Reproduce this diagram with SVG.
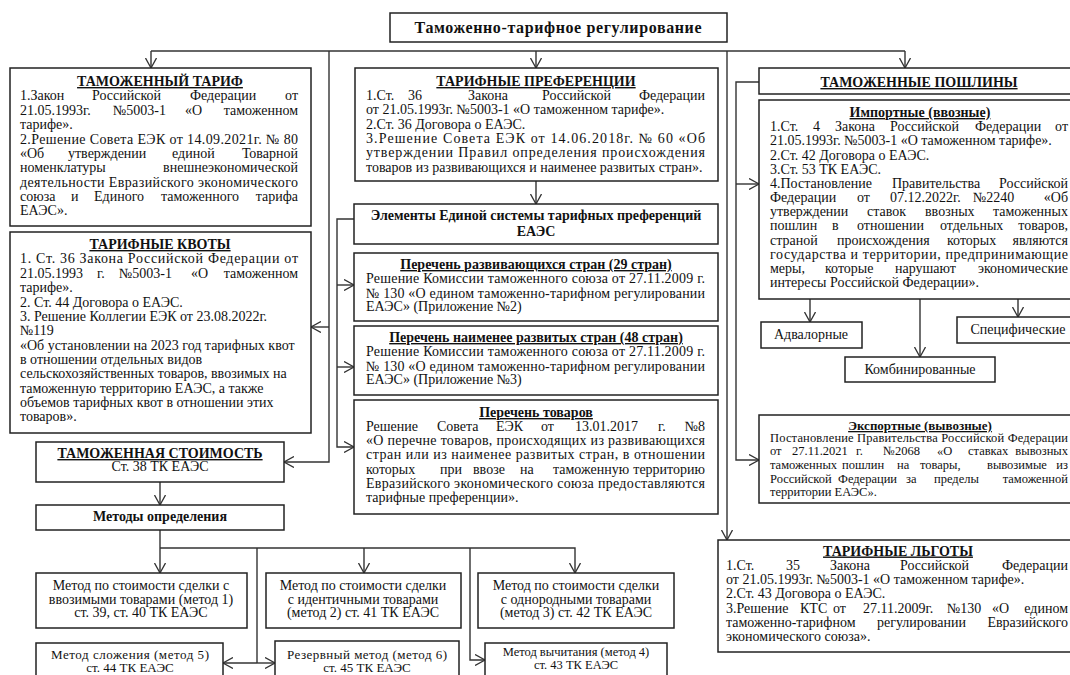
<svg xmlns="http://www.w3.org/2000/svg" width="1070" height="675" viewBox="0 0 1070 675">
<style>
.b{fill:#fff;stroke:#222;stroke-width:1.5}
.t{font-family:"Liberation Serif","Times New Roman",serif;font-size:14px;fill:#111}
.s{font-size:13px}
.xs{font-size:12.5px}
.h{font-weight:bold;text-decoration:underline;text-anchor:middle}
.bo{font-weight:bold;text-anchor:middle}
.c{text-anchor:middle}
.e{text-anchor:end}
.l{fill:none;stroke:#333;stroke-width:1.4}
.a{marker-end:url(#arr)}
</style>
<defs>
<marker id="arr" viewBox="0 0 10 12" refX="10" refY="6" markerWidth="10" markerHeight="12" markerUnits="userSpaceOnUse" orient="auto">
<path d="M0,0.5 L10,6 L0,11.5" fill="none" stroke="#333" stroke-width="1.3"/>
</marker>
</defs>
<rect width="1070" height="675" fill="#fff"/>

<g id="connectors">
<path class="l" d="M151,51 H905"/>
<path class="l a" d="M151,51 V68"/>
<path class="l a" d="M536,51 V68"/>
<path class="l a" d="M905,51 V68"/>
<path class="l a" d="M727,51 V540"/>
<path class="l a" d="M329,51 V462 H284"/>
<path class="l a" d="M329,327 H311"/>
<path class="l a" d="M536,181 V204"/>
<path class="l a" d="M354,219 H337 V447 H354"/>
<path class="l a" d="M337,285 H354"/>
<path class="l a" d="M337,367 H354"/>
<path class="l a" d="M759,82 H736 V460 H759"/>
<path class="l a" d="M736,184 H759"/>
<path class="l a" d="M810,299 V322"/>
<path class="l a" d="M920,299 V357"/>
<path class="l a" d="M1018,299 V317"/>
<path class="l a" d="M160,482 V505"/>
<path class="l a" d="M160,530 V573"/>
<path class="l a" d="M160,548 H575 V573"/>
<path class="l a" d="M364,548 V573"/>
<path class="l" d="M257,548 V663"/>
<path class="l a" d="M257,663 H223"/>
<path class="l a" d="M257,663 H275"/>
<path class="l a" d="M470,548 V660 H485"/>
</g>

<g id="title">
<rect class="b" x="390" y="13" width="337" height="29"/>
<text class="t bo" x="558" y="33" style="font-size:16px" textLength="287" lengthAdjust="spacing">Таможенно-тарифное регулирование</text>
</g>

<g id="tamozh-tarif">
<rect class="b" x="10" y="68" width="301" height="158"/>
<text class="t h" x="160" y="86">ТАМОЖЕННЫЙ ТАРИФ</text>
<text class="t" y="100"><tspan x="20">1.Закон</tspan><tspan x="92">Российской</tspan><tspan x="190">Федерации</tspan><tspan x="298" class="e">от</tspan></text>
<text class="t" y="115"><tspan x="20">21.05.1993г.</tspan><tspan x="113">№5003-1</tspan><tspan x="185">«О</tspan><tspan x="298" class="e">таможенном</tspan></text>
<text class="t" x="20" y="129">тарифе».</text>
<text class="t" x="20" y="144" textLength="278" lengthAdjust="spacing">2.Решение Совета ЕЭК от 14.09.2021г. № 80</text>
<text class="t" y="158"><tspan x="20">«Об</tspan><tspan x="68">утверждении</tspan><tspan x="172">единой</tspan><tspan x="298" class="e">Товарной</tspan></text>
<text class="t" y="172"><tspan x="20">номенклатуры</tspan><tspan x="298" class="e">внешнеэкономической</tspan></text>
<text class="t" x="20" y="187" textLength="278" lengthAdjust="spacing">деятельности Евразийского экономического</text>
<text class="t" y="201"><tspan x="20">союза</tspan><tspan x="71">и</tspan><tspan x="94">Единого</tspan><tspan x="161">таможенного</tspan><tspan x="298" class="e">тарифа</tspan></text>
<text class="t" x="20" y="215">ЕАЭС».</text>
</g>

<g id="tarif-kvoty">
<rect class="b" x="10" y="232" width="301" height="201"/>
<text class="t h" x="160" y="249">ТАРИФНЫЕ КВОТЫ</text>
<text class="t" x="20" y="263" textLength="278" lengthAdjust="spacing">1. Ст. 36 Закона Российской Федерации от</text>
<text class="t" y="278"><tspan x="20">21.05.1993</tspan><tspan x="97">г.</tspan><tspan x="119">№5003-1</tspan><tspan x="191">«О</tspan><tspan x="298" class="e">таможенном</tspan></text>
<text class="t" x="20" y="292">тарифе».</text>
<text class="t" x="20" y="307">2. Ст. 44 Договора о ЕАЭС.</text>
<text class="t" x="20" y="321">3. Решение Коллегии ЕЭК от 23.08.2022г.</text>
<text class="t" x="20" y="335">№119</text>
<text class="t" x="20" y="350">«Об установлении на 2023 год тарифных квот</text>
<text class="t" x="20" y="364">в отношении отдельных видов</text>
<text class="t" x="20" y="378">сельскохозяйственных товаров, ввозимых на</text>
<text class="t" x="20" y="393">таможенную территорию ЕАЭС, а также</text>
<text class="t" x="20" y="407">объемов тарифных квот в отношении этих</text>
<text class="t" x="20" y="421">товаров».</text>
</g>

<g id="tamozh-stoimost">
<rect class="b" x="36" y="442" width="248" height="40"/>
<text class="t h" x="160" y="458">ТАМОЖЕННАЯ СТОИМОСТЬ</text>
<text class="t c" x="160" y="471">Ст. 38 ТК ЕАЭС</text>
</g>

<g id="metody">
<rect class="b" x="36" y="505" width="248" height="25"/>
<text class="t bo" x="160" y="521">Методы определения</text>
</g>

<g id="metod1">
<rect class="b" x="36" y="573" width="211" height="55"/>
<text class="t c" x="141" y="590">Метод по стоимости сделки с</text>
<text class="t c" x="141" y="604">ввозимыми товарами (метод 1)</text>
<text class="t c" x="141" y="617">ст. 39, ст. 40 ТК ЕАЭС</text>
</g>

<g id="metod2">
<rect class="b" x="266" y="573" width="195" height="55"/>
<text class="t c" x="363" y="590">Метод по стоимости сделки</text>
<text class="t c" x="363" y="604">с идентичными товарами</text>
<text class="t c" x="363" y="617">(метод 2) ст. 41 ТК ЕАЭС</text>
</g>

<g id="metod3">
<rect class="b" x="478" y="573" width="196" height="55"/>
<text class="t c" x="576" y="590">Метод по стоимости сделки</text>
<text class="t c" x="576" y="604">с однородными товарами</text>
<text class="t c" x="576" y="617">(метод 3) ст. 42 ТК ЕАЭС</text>
</g>

<g id="metod5">
<rect class="b" x="36" y="643" width="187" height="45"/>
<text class="t s c" x="130" y="659" textLength="158" lengthAdjust="spacing">Метод сложения (метод 5)</text>
<text class="t s c" x="130" y="672">ст. 44 ТК ЕАЭС</text>
</g>

<g id="metod6">
<rect class="b" x="275" y="641" width="184" height="45"/>
<text class="t s c" x="367" y="659" textLength="160" lengthAdjust="spacing">Резервный метод (метод 6)</text>
<text class="t s c" x="367" y="672">ст. 45 ТК ЕАЭС</text>
</g>

<g id="metod4">
<rect class="b" x="485" y="643" width="182" height="45"/>
<text class="t xs c" x="576" y="656">Метод вычитания (метод 4)</text>
<text class="t xs c" x="576" y="669">ст. 43 ТК ЕАЭС</text>
</g>

<g id="tarif-preferencii">
<rect class="b" x="355" y="68" width="363" height="113"/>
<text class="t h" x="536" y="86">ТАРИФНЫЕ ПРЕФЕРЕНЦИИ</text>
<text class="t" y="100"><tspan x="366">1.Ст.</tspan><tspan x="408">36</tspan><tspan x="468">Закона</tspan><tspan x="542">Российской</tspan><tspan x="705" class="e">Федерации</tspan></text>
<text class="t" x="366" y="114">от 21.05.1993г. №5003-1 «О таможенном тарифе».</text>
<text class="t" x="366" y="129">2.Ст. 36 Договора о ЕАЭС.</text>
<text class="t" x="366" y="143" textLength="339" lengthAdjust="spacing">3.Решение Совета ЕЭК от 14.06.2018г. № 60 «Об</text>
<text class="t" x="366" y="157" textLength="339" lengthAdjust="spacing">утверждении Правил определения происхождения</text>
<text class="t" x="366" y="172">товаров из развивающихся и наименее развитых стран».</text>
</g>

<g id="elementy">
<rect class="b" x="354" y="204" width="364" height="40"/>
<text class="t bo" x="536" y="220">Элементы Единой системы тарифных преференций</text>
<text class="t bo" x="536" y="236">ЕАЭС</text>
</g>

<g id="perechen-razv">
<rect class="b" x="354" y="253" width="364" height="68"/>
<text class="t h" x="536" y="269">Перечень развивающихся стран (29 стран)</text>
<text class="t" x="366" y="283" textLength="339" lengthAdjust="spacing">Решение Комиссии таможенного союза от 27.11.2009 г.</text>
<text class="t" x="366" y="298" textLength="339" lengthAdjust="spacing">№ 130 «О едином таможенно-тарифном регулировании</text>
<text class="t" x="366" y="311">ЕАЭС» (Приложение №2)</text>
</g>

<g id="perechen-naimenee">
<rect class="b" x="354" y="326" width="364" height="69"/>
<text class="t h" x="536" y="342">Перечень наименее развитых стран (48 стран)</text>
<text class="t" x="366" y="356" textLength="339" lengthAdjust="spacing">Решение Комиссии таможенного союза от 27.11.2009 г.</text>
<text class="t" x="366" y="371" textLength="339" lengthAdjust="spacing">№ 130 «О едином таможенно-тарифном регулировании</text>
<text class="t" x="366" y="384">ЕАЭС» (Приложение №3)</text>
</g>

<g id="perechen-tovarov">
<rect class="b" x="354" y="400" width="364" height="114"/>
<text class="t h" x="536" y="417">Перечень товаров</text>
<text class="t" y="431"><tspan x="366">Решение</tspan><tspan x="437">Совета</tspan><tspan x="496">ЕЭК</tspan><tspan x="541">от</tspan><tspan x="575">13.01.2017</tspan><tspan x="658">г.</tspan><tspan x="705" class="e">№8</tspan></text>
<text class="t" x="366" y="445" textLength="339" lengthAdjust="spacing">«О перечне товаров, происходящих из развивающихся</text>
<text class="t" x="366" y="459" textLength="339" lengthAdjust="spacing">стран или из наименее развитых стран, в отношении</text>
<text class="t" y="474"><tspan x="366">которых</tspan><tspan x="440">при</tspan><tspan x="473">ввозе</tspan><tspan x="520">на</tspan><tspan x="553">таможенную</tspan><tspan x="705" class="e">территорию</tspan></text>
<text class="t" x="366" y="488" textLength="339" lengthAdjust="spacing">Евразийского экономического союза предоставляются</text>
<text class="t" x="366" y="502">тарифные преференции».</text>
</g>

<g id="tamozh-poshliny">
<rect class="b" x="759" y="68" width="320" height="26"/>
<text class="t h" x="919" y="87">ТАМОЖЕННЫЕ ПОШЛИНЫ</text>
</g>

<g id="importnye">
<rect class="b" x="759" y="100" width="320" height="199"/>
<text class="t h" x="920" y="117">Импортные (ввозные)</text>
<text class="t" y="131"><tspan x="770">1.Ст.</tspan><tspan x="813">4</tspan><tspan x="835">Закона</tspan><tspan x="890">Российской</tspan><tspan x="975">Федерации</tspan><tspan x="1068" class="e">от</tspan></text>
<text class="t" x="770" y="145">21.05.1993г. №5003-1 «О таможенном тарифе».</text>
<text class="t" x="770" y="160">2.Ст. 42 Договора о ЕАЭС.</text>
<text class="t" x="770" y="174">3.Ст. 53 ТК ЕАЭС.</text>
<text class="t" y="188"><tspan x="770">4.Постановление</tspan><tspan x="892">Правительства</tspan><tspan x="1068" class="e">Российской</tspan></text>
<text class="t" y="202"><tspan x="770">Федерации</tspan><tspan x="857">от</tspan><tspan x="890">07.12.2022г.</tspan><tspan x="973">№2240</tspan><tspan x="1068" class="e">«Об</tspan></text>
<text class="t" y="216"><tspan x="770">утверждении</tspan><tspan x="867">ставок</tspan><tspan x="925">ввозных</tspan><tspan x="1068" class="e">таможенных</tspan></text>
<text class="t" y="230"><tspan x="770">пошлин</tspan><tspan x="832">в</tspan><tspan x="857">отношении</tspan><tspan x="940">отдельных</tspan><tspan x="1068" class="e">товаров,</tspan></text>
<text class="t" y="245"><tspan x="770">страной</tspan><tspan x="837">происхождения</tspan><tspan x="947">которых</tspan><tspan x="1068" class="e">являются</tspan></text>
<text class="t" x="770" y="259" textLength="298" lengthAdjust="spacing">государства и территории, предпринимающие</text>
<text class="t" y="273"><tspan x="770">меры,</tspan><tspan x="825">которые</tspan><tspan x="895">нарушают</tspan><tspan x="1068" class="e">экономические</tspan></text>
<text class="t" x="770" y="287">интересы Российской Федерации».</text>
</g>

<g id="advalornye">
<rect class="b" x="761" y="322" width="101" height="26"/>
<text class="t c" x="811" y="339">Адвалорные</text>
</g>

<g id="specificheskie">
<rect class="b" x="957" y="317" width="122" height="26"/>
<text class="t c" x="1018" y="334">Специфические</text>
</g>

<g id="kombinirovannye">
<rect class="b" x="845" y="357" width="150" height="25"/>
<text class="t c" x="920" y="374">Комбинированные</text>
</g>

<g id="eksportnye">
<rect class="b" x="759" y="415" width="320" height="88"/>
<text class="t s h" x="920" y="430">Экспортные (вывозные)</text>
<text class="t xs" x="770" y="442" textLength="298" lengthAdjust="spacing">Постановление Правительства Российской Федерации</text>
<text class="t xs" y="455"><tspan x="770">от</tspan><tspan x="792">27.11.2021</tspan><tspan x="856">г.</tspan><tspan x="883">№2068</tspan><tspan x="937">«О</tspan><tspan x="968">ставках</tspan><tspan x="1068" class="e">вывозных</tspan></text>
<text class="t xs" y="469"><tspan x="770">таможенных</tspan><tspan x="842">пошлин</tspan><tspan x="897">на</tspan><tspan x="920">товары,</tspan><tspan x="987">вывозимые</tspan><tspan x="1068" class="e">из</tspan></text>
<text class="t xs" y="483"><tspan x="770">Российской</tspan><tspan x="838">Федерации</tspan><tspan x="906">за</tspan><tspan x="934">пределы</tspan><tspan x="1068" class="e">таможенной</tspan></text>
<text class="t xs" x="770" y="496">территории ЕАЭС».</text>
</g>

<g id="tarif-lgoty">
<rect class="b" x="718" y="540" width="360" height="112"/>
<text class="t h" x="898" y="555.5">ТАРИФНЫЕ ЛЬГОТЫ</text>
<text class="t" y="570"><tspan x="726">1.Ст.</tspan><tspan x="786">35</tspan><tspan x="830">Закона</tspan><tspan x="900">Российской</tspan><tspan x="1068" class="e">Федерации</tspan></text>
<text class="t" x="726" y="584">от 21.05.1993г. №5003-1 «О таможенном тарифе».</text>
<text class="t" x="726" y="598">2.Ст. 43 Договора о ЕАЭС.</text>
<text class="t" y="612.5"><tspan x="726">3.Решение</tspan><tspan x="800">КТС</tspan><tspan x="833">от</tspan><tspan x="863">27.11.2009г.</tspan><tspan x="947">№130</tspan><tspan x="992">«О</tspan><tspan x="1068" class="e">едином</tspan></text>
<text class="t" y="627"><tspan x="726">таможенно-тарифном</tspan><tspan x="877">регулировании</tspan><tspan x="1068" class="e">Евразийского</tspan></text>
<text class="t" x="726" y="641">экономического союза».</text>
</g>
</svg>
